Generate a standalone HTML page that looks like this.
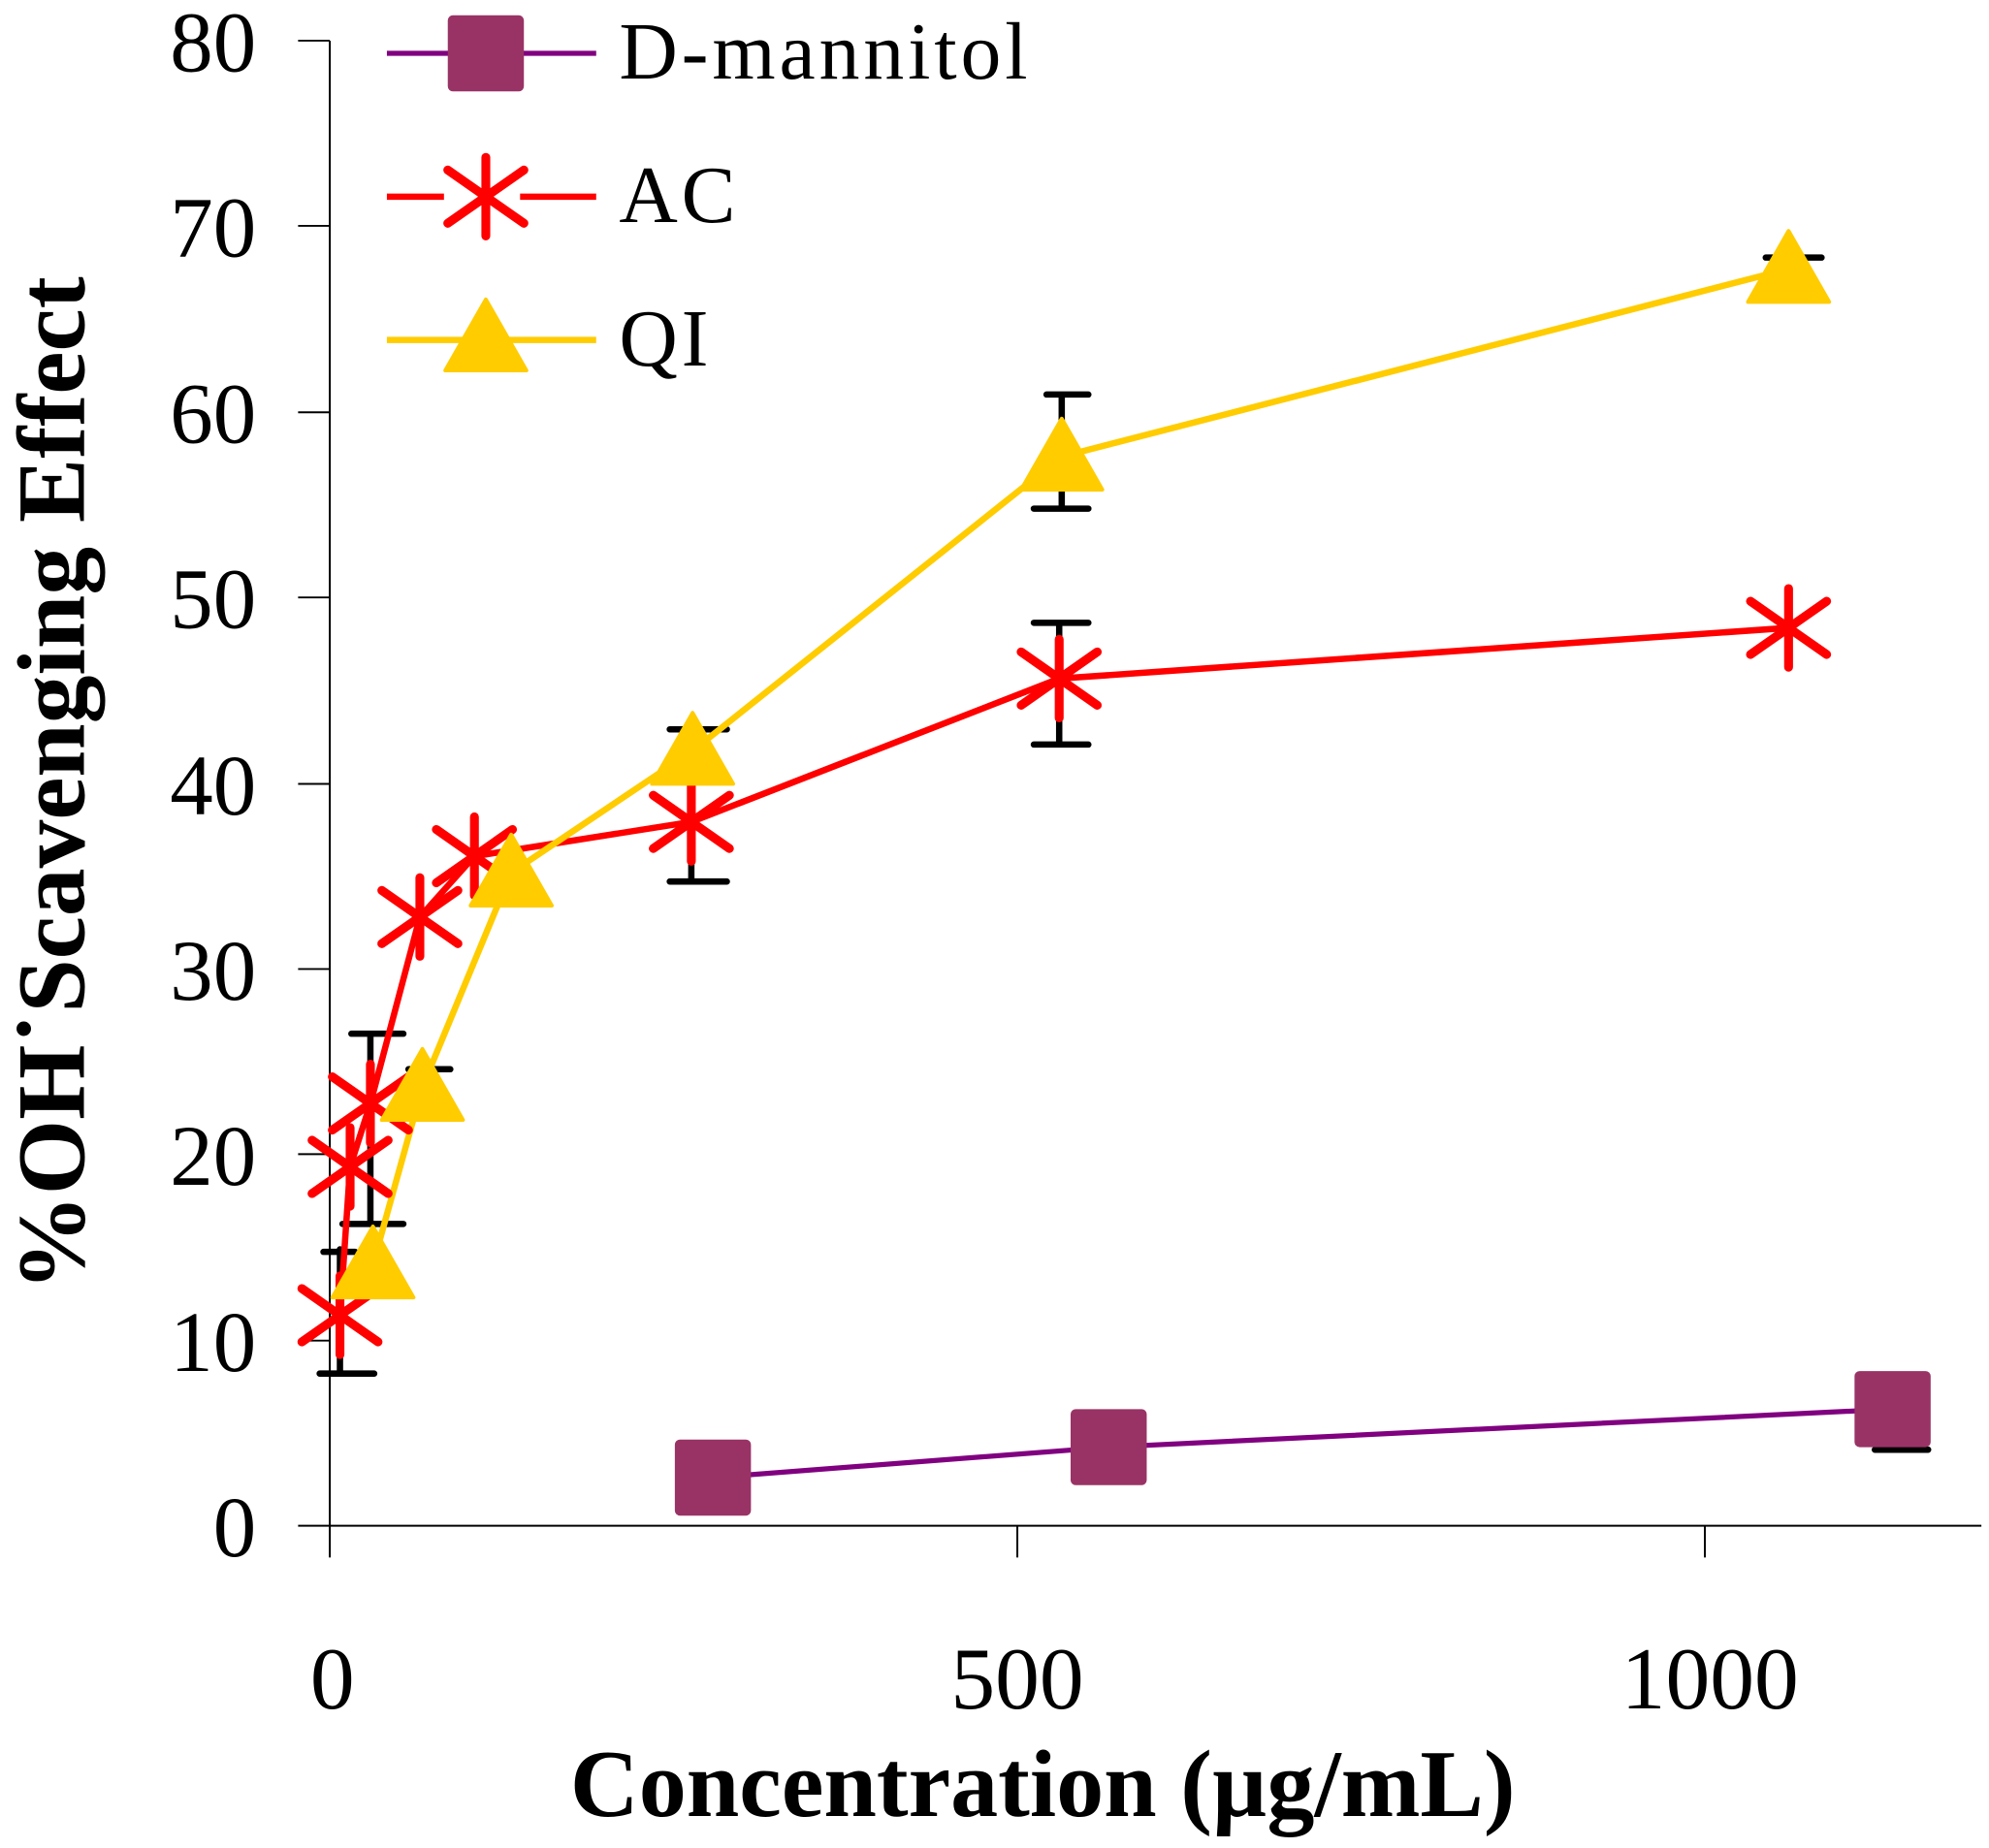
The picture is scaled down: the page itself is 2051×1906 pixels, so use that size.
<!DOCTYPE html>
<html><head><style>html,body{margin:0;padding:0;background:#fff}svg{display:block}</style></head>
<body>
<svg width="2051" height="1906" viewBox="0 0 1568 1457" xmlns="http://www.w3.org/2000/svg" font-family="Liberation Serif, serif">
<defs>
<g id="ast"><path d="M-30,-21 L30,21 M-30,21 L30,-21 M0,-31 L0,31" stroke="#f00" stroke-width="7" stroke-linecap="round" fill="none"/></g>
<g id="tri"><path d="M0,-30 L32,26 L-32,26 Z" fill="#ffcc00" stroke="#ffcc00" stroke-width="3" stroke-linejoin="round"/></g>
<g id="sq"><rect x="-30" y="-30" width="60" height="60" rx="4" fill="#993366"/></g>
</defs>
<g stroke="#000" stroke-width="1.5">
<line x1="260" y1="32" x2="260" y2="1228"/>
<line x1="235" y1="1203" x2="1562" y2="1203"/>
<line x1="235" y1="32" x2="260" y2="32"/><line x1="235" y1="178" x2="260" y2="178"/>
<line x1="235" y1="325" x2="260" y2="325"/><line x1="235" y1="471" x2="260" y2="471"/>
<line x1="235" y1="618" x2="260" y2="618"/><line x1="235" y1="764" x2="260" y2="764"/>
<line x1="235" y1="910" x2="260" y2="910"/><line x1="235" y1="1057" x2="260" y2="1057"/>
<line x1="802" y1="1203" x2="802" y2="1228"/><line x1="1344" y1="1203" x2="1344" y2="1228"/>
</g>
<g font-size="68" text-anchor="end">
<text x="202" y="56">80</text><text x="202" y="202">70</text><text x="202" y="349">60</text>
<text x="202" y="495">50</text><text x="202" y="642">40</text><text x="202" y="788">30</text>
<text x="202" y="934">20</text><text x="202" y="1081">10</text><text x="202" y="1227">0</text>
</g>
<g font-size="70" text-anchor="middle">
<text x="262" y="1347">0</text><text x="802" y="1347">500</text><text x="1348" y="1347">1000</text>
</g>
<text x="822" y="1432" font-size="75" font-weight="bold" text-anchor="middle">Concentration (µg/mL)</text>
<text transform="translate(66,618) rotate(-90)" font-size="76" font-weight="bold" text-anchor="middle">%OH˙Scavenging Effect</text>
<g stroke="#000" stroke-width="5" stroke-linecap="round" fill="none">
<path d="M837,311 V401 M825,311 H858 M815,401 H858"/>
<path d="M835,491 V587 M815,491 H858 M815,587 H858"/>
<path d="M545,575 V695 M528,575 H573 M528,695 H573"/>
<path d="M1410,203 V230 M1392,203 H1436"/>
<path d="M292,815 V965 M277,815 H318 M270,965 H318"/>
<path d="M268,985 V1083 M252,1083 H295 M255,987 H280"/>
<path d="M333,843 V870 M322,843 H355"/>
<path d="M1478,1143 H1520"/>
</g>
<polyline points="562,1165 874,1141 1492,1111" fill="none" stroke="#800080" stroke-width="4"/>
<polyline points="268,1037 276,920 292,870 331,723 374,675 545,648 835,535 1410,495" fill="none" stroke="#f00" stroke-width="5"/>
<polyline points="294,997 333,857 403,688 546,592 837,360 1410,212" fill="none" stroke="#ffcc00" stroke-width="5"/>
<use href="#sq" x="562" y="1165"/><use href="#sq" x="874" y="1141"/><use href="#sq" x="1492" y="1111"/>
<use href="#ast" x="268" y="1037"/><use href="#ast" x="276" y="920"/><use href="#ast" x="292" y="870"/>
<use href="#ast" x="331" y="723"/><use href="#ast" x="374" y="675"/><use href="#ast" x="545" y="648"/>
<use href="#ast" x="835" y="535"/><use href="#ast" x="1410" y="495"/>
<use href="#tri" x="294" y="997"/><use href="#tri" x="333" y="857"/><use href="#tri" x="403" y="688"/>
<use href="#tri" x="546" y="592"/><use href="#tri" x="837" y="360"/><use href="#tri" x="1410" y="212"/>
<line x1="305" y1="42" x2="470" y2="42" stroke="#800080" stroke-width="4"/><use href="#sq" x="383" y="42"/>
<line x1="305" y1="155" x2="470" y2="155" stroke="#f00" stroke-width="5"/><rect x="350" y="125" width="60" height="60" fill="#fff"/><use href="#ast" x="383" y="155"/>
<line x1="305" y1="268" x2="470" y2="268" stroke="#ffcc00" stroke-width="5"/><use href="#tri" x="383" y="266"/>
<g font-size="64" letter-spacing="3"><text x="488" y="62">D-mannitol</text><text x="488" y="175">AC</text><text x="488" y="288">QI</text></g>
</svg>
</body></html>
